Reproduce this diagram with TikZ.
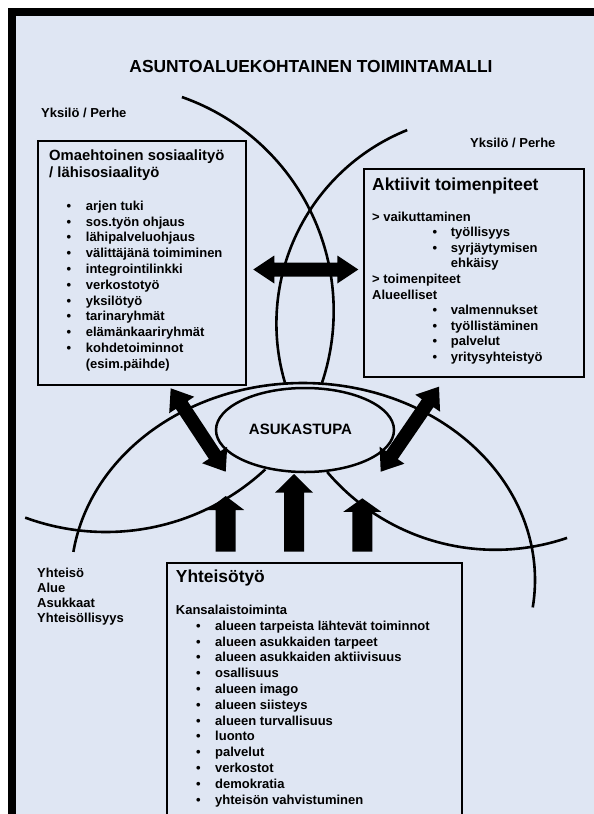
\documentclass[tikz,border=0pt]{standalone}
\usepackage{fontspec}
\setmainfont{Liberation Sans}
\usetikzlibrary{calc,shapes.geometric}
\definecolor{bgblue}{HTML}{DFE6F3}
\newcommand\blkarrowone[5]{%
  \coordinate (bahead) at ($(#2)!#5!(#1)$);
  \fill ($(#1)!#3!90:(#2)$) -- ($(bahead)!#3!90:(#2)$) -- ($(bahead)!#4!90:(#2)$) -- (#2) -- ($(bahead)!#4!-90:(#2)$) -- ($(bahead)!#3!-90:(#2)$) -- ($(#1)!#3!-90:(#2)$) -- cycle;}
\newcommand\blkarrowtwo[5]{%
  \coordinate (bahA) at ($(#1)!#5!(#2)$);
  \coordinate (bahB) at ($(#2)!#5!(#1)$);
  \fill (#1) -- ($(bahA)!#4!90:(#2)$) -- ($(bahA)!#3!90:(#2)$) -- ($(bahB)!#3!90:(#2)$) -- ($(bahB)!#4!90:(#2)$) -- (#2) -- ($(bahB)!#4!-90:(#2)$) -- ($(bahB)!#3!-90:(#2)$) -- ($(bahA)!#3!-90:(#2)$) -- ($(bahA)!#4!-90:(#2)$) -- cycle;}
\begin{document}
\begin{tikzpicture}[x=1pt,y=-1pt,
  txt/.style={inner sep=0pt,anchor=base west,font=\fontsize{13}{15}\selectfont\bfseries},
  bul/.style={inner sep=0pt,anchor=base,font=\fontsize{13}{15}\selectfont\bfseries},
  hdr/.style={inner sep=0pt,anchor=base west,font=\fontsize{17.4}{20}\selectfont\bfseries},
  box/.style={draw,line width=2pt,fill=bgblue,inner sep=0pt,outer sep=0pt,anchor=north west},
  curve/.style={line width=2.6pt},
]
\clip (0,0) rectangle (594,814);
\fill[white] (0,0) rectangle (594,814);
\fill[bgblue] (12,12) rectangle (600,820);
\draw[line width=8pt] (12,830) -- (12,12) -- (600,12);

% boxes
\node[box,minimum width=208pt,minimum height=244pt] (L) at (38,141) {};
\node[box,minimum width=220pt,minimum height=208pt] (R) at (364,169) {};
\node[box,minimum width=295pt,minimum height=300pt] (B) at (167,563) {};

% circle arcs
\draw[curve] plot[domain=-70.7:18.5,samples=80,smooth] ({107+226.7*cos(\x)},{311+226.7*sin(\x)});
\draw[curve] plot[domain=-196.5:-111.9,samples=80,smooth] ({485+208.6*cos(\x)},{323.6+208.6*sin(\x)});
\draw[curve] plot[domain=-171.8:8,samples=120,smooth] ({303+232*cos(\x)},{580+197*sin(\x)});
\draw[curve] plot[domain=47.1:110.2,samples=80,smooth] ({106+234*cos(\x)},{298+234*sin(\x)});
\draw[curve] plot[domain=71.1:139.6,samples=80,smooth] ({495.5+221*cos(\x)},{328.8+221*sin(\x)});

% centre ellipse
\node[draw,ellipse,line width=2.5pt,fill=bgblue,minimum width=178pt,minimum height=84pt,inner sep=0pt] (E) at (305,430) {};
\node[inner sep=0pt,font=\fontsize{15}{17}\selectfont\bfseries] (Et) at (300.5,429.5) {ASUKASTUPA};

% title and labels
\node[inner sep=0pt,anchor=base,font=\fontsize{17.4}{20}\selectfont\bfseries] (T) at (311,72) {ASUNTOALUEKOHTAINEN TOIMINTAMALLI};
\node[txt] (Y1) at (41,117.3) {Yksilö / Perhe};
\node[txt] (Y2) at (470,147.3) {Yksilö / Perhe};

% left box
\node[inner sep=0pt,anchor=base west,font=\fontsize{14.8}{17}\selectfont\bfseries] (Lh1) at (49,160.7) {Omaehtoinen sosiaalityö};
\node[inner sep=0pt,anchor=base west,font=\fontsize{14.8}{17}\selectfont\bfseries] (Lh2) at (49,177) {/ lähisosiaalityö};
\foreach \t [count=\i] in {arjen tuki,sos.työn ohjaus,lähipalveluohjaus,välittäjänä toimiminen,integrointilinkki,verkostotyö,yksilötyö,tarinaryhmät,elämänkaariryhmät,kohdetoiminnot}{
  \pgfmathsetmacro\yy{210.3+15.8*(\i-1)}
  \node[bul] (Lb\i) at (69,\yy) {•};
  \node[txt] (Lt\i) at (85.7,\yy) {\t};
}
\node[txt] (Lt11) at (85.7,368.3) {(esim.päihde)};

% right box
\node[hdr] (Rh) at (372,190.7) {Aktiivit toimenpiteet};
\node[txt] (Rt1) at (372,221) {> vaikuttaminen};
\node[bul] (Rb2) at (435,236.6) {•};
\node[txt] (Rt2) at (450.7,236.6) {työllisyys};
\node[bul] (Rb3) at (435,252.2) {•};
\node[txt] (Rt3) at (450.7,252.2) {syrjäytymisen};
\node[txt] (Rt4) at (450.7,267.8) {ehkäisy};
\node[txt] (Rt5) at (372,283.4) {> toimenpiteet};
\node[txt] (Rt6) at (372,299) {Alueelliset};
\node[bul] (Rb7) at (435,314.6) {•};
\node[txt] (Rt7) at (450.7,314.6) {valmennukset};
\node[bul] (Rb8) at (435,330.2) {•};
\node[txt] (Rt8) at (450.7,330.2) {työllistäminen};
\node[bul] (Rb9) at (435,345.8) {•};
\node[txt] (Rt9) at (450.7,345.8) {palvelut};
\node[bul] (Rb10) at (435,361.4) {•};
\node[txt] (Rt10) at (450.7,361.4) {yritysyhteistyö};

% bottom box
\node[hdr] (Bh) at (175.7,582.7) {Yhteisötyö};
\node[txt] (Bk) at (175.7,614.3) {Kansalaistoiminta};
\foreach \t [count=\i] in {alueen tarpeista lähtevät toiminnot,alueen asukkaiden tarpeet,alueen asukkaiden aktiivisuus,osallisuus,alueen imago,alueen siisteys,alueen turvallisuus,luonto,palvelut,verkostot,demokratia,yhteisön vahvistuminen}{
  \pgfmathsetmacro\yy{630.3+15.8*(\i-1)}
  \node[bul] (Bb\i) at (198.3,\yy) {•};
  \node[txt] (Bt\i) at (215,\yy) {\t};
}

% community labels
\node[txt] (C1) at (37,577.3) {Yhteisö};
\node[txt] (C2) at (37,592.5) {Alue};
\node[txt] (C3) at (37,607.7) {Asukkaat};
\node[txt] (C4) at (37,622.9) {Yhteisöllisyys};

% block arrows
\coordinate (hL) at (253.3,269.5);
\coordinate (hR) at (358.3,269.5);
\blkarrowtwo{hL}{hR}{7pt}{14pt}{21pt}
\coordinate (dLa) at (170.7,388.3);
\coordinate (dLb) at (225.7,471.7);
\blkarrowtwo{dLa}{dLb}{7pt}{15pt}{20pt}
\coordinate (dRa) at (439,386.7);
\coordinate (dRb) at (380.7,471.7);
\blkarrowtwo{dRa}{dRb}{7pt}{15pt}{20pt}
\coordinate (v1a) at (225.7,551.7);
\coordinate (v1b) at (225.7,496);
\blkarrowone{v1a}{v1b}{10pt}{18.5pt}{14pt}
\coordinate (v2a) at (294,551.7);
\coordinate (v2b) at (294,474);
\blkarrowone{v2a}{v2b}{10pt}{19pt}{18.7pt}
\coordinate (v3a) at (362.3,551.7);
\coordinate (v3b) at (362.3,498.3);
\blkarrowone{v3a}{v3b}{10pt}{19pt}{13.5pt}
\end{tikzpicture}
\end{document}
